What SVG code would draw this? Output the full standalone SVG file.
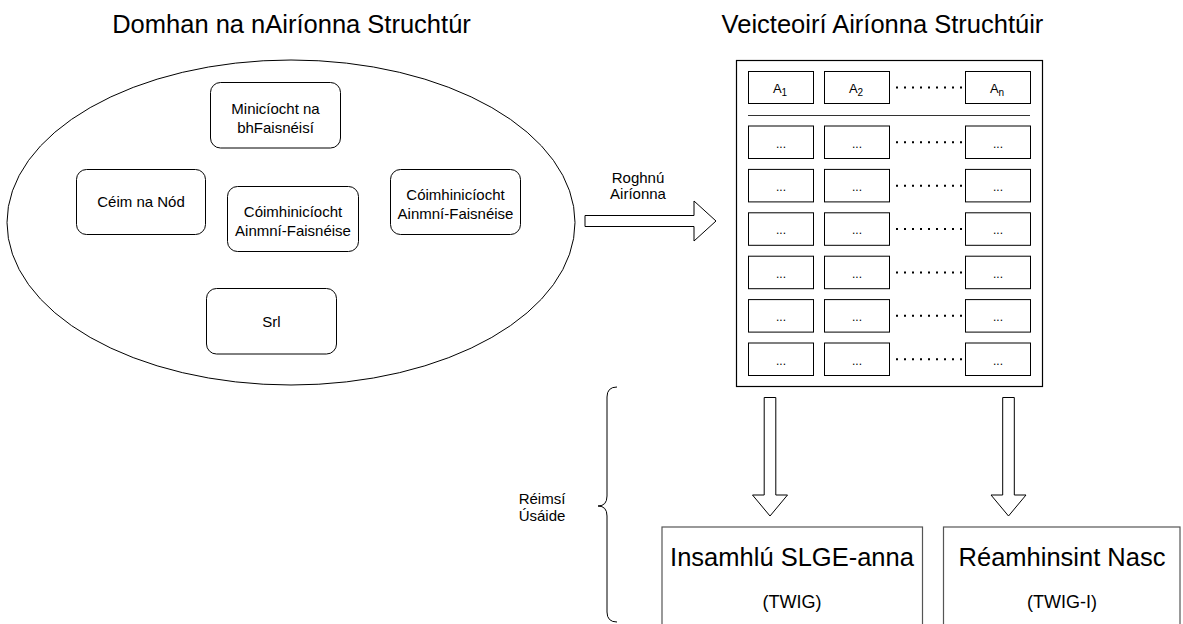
<svg xmlns="http://www.w3.org/2000/svg" width="1183" height="624" viewBox="0 0 1183 624">
  <style>
    text { font-family: "Liberation Sans", Arial, Helvetica, sans-serif; fill: #000; }
    .title { font-size: 25.5px; text-anchor: middle; }
    .lbl { font-size: 15px; text-anchor: middle; }
    .big { font-size: 25.5px; text-anchor: middle; }
    .mid { font-size: 18px; text-anchor: middle; }
    .hdr { font-size: 13px; text-anchor: middle; }
    .sub { font-size: 10px; }
    .ell { font-size: 12px; text-anchor: middle; }
    .round { fill: #fff; stroke: #000; stroke-width: 1; }
    .cell { fill: #fff; stroke: #000; stroke-width: 1; }
    .frame { fill: #fff; stroke: #000; stroke-width: 1.2; }
    .outbox { fill: #fff; stroke: #555; stroke-width: 1.2; }
    .dots { stroke: #000; stroke-width: 2; stroke-dasharray: 2 6; fill: none; }
    .fat { fill: #fff; stroke: #000; stroke-width: 1; stroke-linejoin: miter; }
    .brace { fill: none; stroke: #000; stroke-width: 1; }
  </style>

  <defs>
    <!-- one row of the feature table: three cells joined by a dotted run -->
    <g id="row">
      <rect class="cell" x="748.5" y="0" width="65" height="32.5"/>
      <rect class="cell" x="824.5" y="0" width="65" height="32.5"/>
      <rect class="cell" x="965.5" y="0" width="65" height="32.5"/>
      <line class="dots" x1="896" y1="16.25" x2="963" y2="16.25"/>
      <text class="ell" x="781" y="21.5">...</text>
      <text class="ell" x="857" y="21.5">...</text>
      <text class="ell" x="998" y="21.5">...</text>
    </g>
  </defs>

  <!-- headings -->
  <text class="title" x="291.5" y="33">Domhan na nAiríonna Struchtúr</text>
  <text class="title" x="882.5" y="33">Veicteoirí Airíonna Struchtúir</text>

  <!-- feature universe -->
  <g id="feature-universe">
    <ellipse cx="291" cy="222.5" rx="284" ry="162.5" fill="#fff" stroke="#000" stroke-width="1"/>
  </g>

  <g id="node-frequency">
    <rect class="round" x="210.5" y="82.5" width="130" height="65.5" rx="10"/>
    <text class="lbl" x="275.5" y="113.5">Minicíocht na</text>
    <text class="lbl" x="275.5" y="132.5">bhFaisnéisí</text>
  </g>

  <g id="node-degree">
    <rect class="round" x="76.5" y="169.5" width="129" height="65" rx="10"/>
    <text class="lbl" x="141" y="207">Céim na Nód</text>
  </g>

  <g id="node-cooccurrence-centre">
    <rect class="round" x="227.5" y="186.5" width="131" height="65" rx="10"/>
    <text class="lbl" x="293" y="216.5">Cóimhinicíocht</text>
    <text class="lbl" x="293" y="235.5">Ainmní-Faisnéise</text>
  </g>

  <g id="node-cooccurrence-right">
    <rect class="round" x="390.5" y="169.5" width="130" height="65" rx="10"/>
    <text class="lbl" x="455.5" y="199.5">Cóimhinicíocht</text>
    <text class="lbl" x="455.5" y="218.5">Ainmní-Faisnéise</text>
  </g>

  <g id="node-etc">
    <rect class="round" x="206.5" y="288.5" width="130" height="65.5" rx="10"/>
    <text class="lbl" x="271.5" y="326.5">Srl</text>
  </g>

  <!-- feature vector table -->
  <g id="vector-table">
    <rect class="frame" x="736.5" y="60.5" width="306" height="326"/>
    <rect class="cell" x="748.5" y="71.5" width="65" height="32"/>
    <rect class="cell" x="824.5" y="71.5" width="65" height="32"/>
    <rect class="cell" x="965.5" y="71.5" width="65" height="32"/>
    <line class="dots" x1="896" y1="87.5" x2="963" y2="87.5"/>
    <text class="hdr" x="780" y="92.5">A<tspan class="sub" dy="3">1</tspan></text>
    <text class="hdr" x="856" y="92.5">A<tspan class="sub" dy="3">2</tspan></text>
    <text class="hdr" x="997" y="92.5">A<tspan class="sub" dy="3">n</tspan></text>
    <line x1="748" y1="115.5" x2="1030" y2="115.5" stroke="#333" stroke-width="1.2"/>
    <use href="#row" y="126"/>
    <use href="#row" y="169.4"/>
    <use href="#row" y="212.8"/>
    <use href="#row" y="256.2"/>
    <use href="#row" y="299.6"/>
    <use href="#row" y="343"/>
  </g>

  <g id="label-selection">
    <text class="lbl" x="638" y="183">Roghnú</text>
    <text class="lbl" x="638" y="199">Airíonna</text>
  </g>

  <g id="label-domains">
    <text class="lbl" x="542" y="503.5">Réimsí</text>
    <text class="lbl" x="542" y="521">Úsáide</text>
  </g>

  <!-- application boxes, cut by the lower edge -->
  <g id="node-simulation">
    <rect class="outbox" x="662" y="527" width="260.5" height="120"/>
    <text class="big" x="792" y="566">Insamhlú SLGE-anna</text>
    <text class="mid" x="792" y="607.5">(TWIG)</text>
  </g>

  <g id="node-link-prediction">
    <rect class="outbox" x="943.5" y="527" width="236.5" height="120"/>
    <text class="big" x="1062" y="566">Réamhinsint Nasc</text>
    <text class="mid" x="1062" y="607.5">(TWIG-I)</text>
  </g>

  <!-- connectors -->
  <g id="connectors">
    <polygon class="fat" points="585,215.5 694,215.5 694,201 716,221 694,241 694,226.5 585,226.5"/>
    <polygon class="fat" points="764.2,397.5 775.8,397.5 775.8,495 787.5,495 770,516 752.5,495 764.2,495"/>
    <polygon class="fat" points="1002.7,397.5 1014.3,397.5 1014.3,495 1026,495 1008.5,516 991,495 1002.7,495"/>
    <path class="brace" d="M617,387 Q607,387 607,397 L607,496 Q607,506 598,506 Q607,506 607,516 L607,612 Q607,622 617,622"/>
  </g>
</svg>
